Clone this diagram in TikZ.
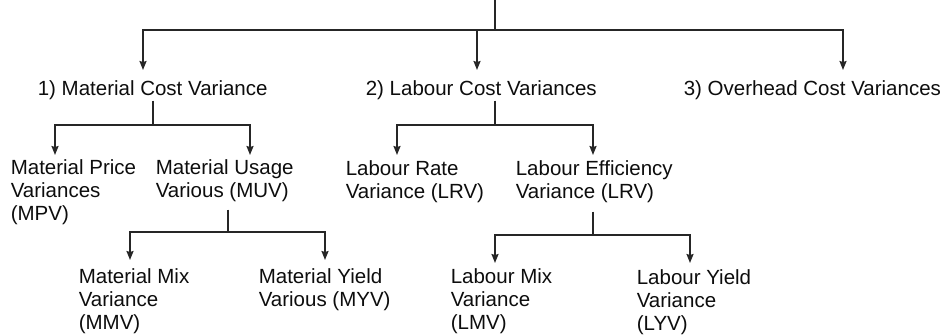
\documentclass[tikz,border=0pt]{standalone}
\usepackage{fontspec}
\setmainfont{Liberation Sans}
\usetikzlibrary{arrows.meta, positioning, calc}

\begin{document}
\begin{tikzpicture}
            [->, >={Stealth[length=9pt, width=7pt, inset=1pt]}, x=1pt, y=-1pt, line width=1.6pt, color=black!85,
            variance/.style={anchor=north west, inner sep=0pt, align=left, text=black!95, font=\fontsize{20.5}{23}\selectfont},
            link/.style={-}]
            \useasboundingbox (0,0) rectangle (945,335);

            % first level
            \node[variance] (mcv) at (37,80)  {1) Material Cost Variance};
            \node[variance] (lcv) at (365,80) {2) Labour Cost Variances};
            \node[variance] (ocv) at (683,80) {3) Overhead Cost Variances};

            % second level
            \node[variance] (mpv) at (10,159)  {Material Price \\ Variances \\ (MPV)};
            \node[variance] (muv) at (155,159) {Material Usage \\ Various (MUV)};
            \node[variance] (lrv) at (345,160) {Labour Rate \\ Variance (LRV)};
            \node[variance] (lev) at (515,160) {Labour Efficiency \\ Variance (LRV)};

            % third level
            \node[variance] (mmv) at (78,268)  {Material Mix \\ Variance \\ (MMV)};
            \node[variance] (myv) at (258,268) {Material Yield \\ Various (MYV)};
            \node[variance] (lmv) at (450,268) {Labour Mix \\ Variance \\ (LMV)};
            \node[variance] (lyv) at (636,269) {Labour Yield \\ Variance \\ (LYV)};

            \coordinate (root)     at (495,0);
            \coordinate (split)    at (495,30);
            \coordinate (mcvsplit) at (153,125);
            \coordinate (lcvsplit) at (495,125);
            \coordinate (muvsplit) at (228,232);
            \coordinate (levsplit) at (593,235);

            \draw[link] (root) -- (split);
            \draw[shorten >=10pt] (split) -| ([xshift=106pt]mcv.north west);
            \draw[shorten >=10pt] (split) -| ([xshift=112pt]lcv.north west);
            \draw[shorten >=10pt] (split) -| ([xshift=160pt]ocv.north west);

            \draw[link] (mcv.south -| mcvsplit) -- (mcvsplit);
            \draw[shorten >=4pt] (mcvsplit) -| ([xshift=45pt]mpv.north west);
            \draw[shorten >=4pt] (mcvsplit) -| ([xshift=95pt]muv.north west);

            \draw[link] (lcv.south -| lcvsplit) -- (lcvsplit);
            \draw[shorten >=5pt] (lcvsplit) -| ([xshift=52pt]lrv.north west);
            \draw[shorten >=5pt] (lcvsplit) -| ([xshift=78pt]lev.north west);

            \draw[link, shorten <=7pt] (muv.south -| muvsplit) -- (muvsplit);
            \draw[shorten >=8pt] (muvsplit) -| ([xshift=52pt]mmv.north west);
            \draw[shorten >=8pt] (muvsplit) -| ([xshift=67pt]myv.north west);

            \draw[link, shorten <=8pt] (lev.south -| levsplit) -- (levsplit);
            \draw[shorten >=5pt] (levsplit) -| ([xshift=45pt]lmv.north west);
            \draw[shorten >=6pt] (levsplit) -| ([xshift=54pt]lyv.north west);
        \end{tikzpicture}
\end{document}
